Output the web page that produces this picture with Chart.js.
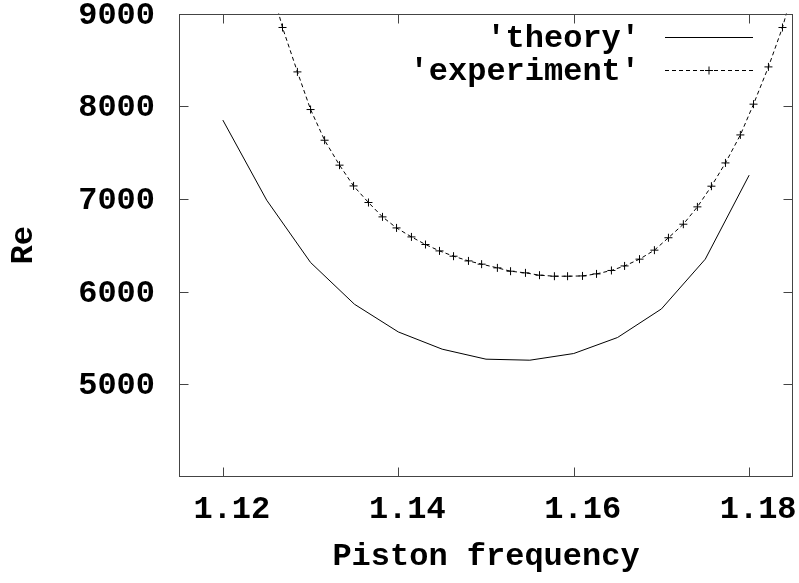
<!DOCTYPE html>
<html>
<head>
<meta charset="utf-8">
<script src="https://cdn.jsdelivr.net/npm/chart.js@4.4.0/dist/chart.umd.min.js"></script>
<style>
  html, body { margin: 0; padding: 0; background: #fff; }
</style>
</head>
<body>
<canvas id="myChart" width="799" height="583"></canvas>
<script>
// theory curve (solid line)
const theoryFreq = [1.12, 1.125, 1.13, 1.135, 1.14, 1.145, 1.15, 1.155, 1.16, 1.165, 1.17, 1.175, 1.18];
const theoryRe = [7850, 6986, 6314, 5864, 5565, 5379, 5271, 5260, 5332, 5505, 5813, 6350, 7256];

// experiment points (dashed line with crosses), first and last run off the top
const experimentFreq = [1.1252, 1.1268, 1.1285, 1.1300, 1.1316, 1.1333, 1.1349, 1.1366, 1.1382, 1.1398,
  1.1415, 1.1431, 1.1447, 1.1463, 1.1480, 1.1495, 1.1513, 1.1528, 1.1545, 1.1561,
  1.1578, 1.1593, 1.1610, 1.1626, 1.1643, 1.1658, 1.1675, 1.1692, 1.1708, 1.1725,
  1.1741, 1.1757, 1.1773, 1.1790, 1.1805, 1.1822, 1.1838, 1.1854];
const experimentRe = [9400, 8849, 8370, 7964, 7633, 7364, 7140, 6961, 6806, 6687,
  6590, 6508, 6439, 6382, 6331, 6296, 6256, 6220, 6202, 6177,
  6166, 6166, 6169, 6191, 6228, 6277, 6350, 6447, 6581, 6727,
  6914, 7137, 7388, 7690, 8022, 8424, 8849, 9390];

const xTicks = [1.12, 1.14, 1.16, 1.18];
const yTicks = [5000, 6000, 7000, 8000, 9000];
const seriesNames = ["'theory'", "'experiment'"];

const FONT = "'Liberation Mono', 'DejaVu Sans Mono', monospace";
const FRAME = "#444";

function pairs(xs, ys) {
  return xs.map((x, i) => ({ x: x, y: ys[i] }));
}

// border box, inward ticks on all four sides, and the key
const framePlugin = {
  id: "frame",
  afterDraw(chart) {
    const { ctx, chartArea: a, scales } = chart;
    const L = Math.round(a.left) + 0.5, R = Math.round(a.right) - 0.5;
    const T = Math.round(a.top) + 0.5, B = Math.round(a.bottom) - 0.5;
    ctx.save();
    ctx.strokeStyle = FRAME;
    ctx.lineWidth = 1;
    ctx.strokeRect(L, T, R - L, B - T);
    ctx.beginPath();
    xTicks.forEach(v => {
      const px = Math.round(scales.x.getPixelForValue(v)) + 0.5;
      ctx.moveTo(px, B); ctx.lineTo(px, B - 9);
      ctx.moveTo(px, T); ctx.lineTo(px, T + 9);
    });
    yTicks.forEach(v => {
      const py = Math.round(scales.y.getPixelForValue(v)) + 0.5;
      ctx.moveTo(L, py); ctx.lineTo(L + 9, py);
      ctx.moveTo(R, py); ctx.lineTo(R - 9, py);
    });
    ctx.stroke();

    // key
    ctx.font = "bold 32px " + FONT;
    ctx.fillStyle = "#000";
    ctx.textAlign = "right";
    ctx.textBaseline = "middle";
    const rows = [39, 72];
    ctx.fillText(seriesNames[0], 640, rows[0]);
    ctx.fillText(seriesNames[1], 640, rows[1]);

    ctx.strokeStyle = "#000";
    ctx.beginPath();
    ctx.moveTo(665, 37.5); ctx.lineTo(753, 37.5);
    ctx.stroke();
    ctx.setLineDash([4, 3]);
    ctx.beginPath();
    ctx.moveTo(665, 70.5); ctx.lineTo(753, 70.5);
    ctx.stroke();
    ctx.setLineDash([]);
    ctx.beginPath();
    ctx.moveTo(705, 70.5); ctx.lineTo(713, 70.5);
    ctx.moveTo(709, 66.5); ctx.lineTo(709, 74.5);
    ctx.stroke();
    ctx.restore();
  },
};

const ctx = document.getElementById("myChart").getContext("2d");
const chart = new Chart(ctx, {
  type: "line",
  data: {
    datasets: [
      {
        label: seriesNames[0],
        data: pairs(theoryFreq, theoryRe),
        borderColor: "#000",
        borderWidth: 1,
        pointRadius: 0,
        tension: 0,
        fill: false,
      },
      {
        label: seriesNames[1],
        data: pairs(experimentFreq, experimentRe),
        borderColor: "#000",
        borderWidth: 1,
        borderDash: [4, 3],
        pointStyle: "cross",
        pointRadius: 4,
        pointBorderColor: "#000",
        pointBorderWidth: 1,
        tension: 0,
        fill: false,
      },
    ],
  },
  options: {
    responsive: false,
    animation: false,
    devicePixelRatio: 1,
    events: [],
    layout: { padding: { top: 13.5, right: 6, left: 0, bottom: 0 } },
    plugins: {
      legend: { display: false },
      tooltip: { enabled: false },
    },
    scales: {
      x: {
        type: "linear",
        min: 1.115,
        max: 1.185,
        afterBuildTicks: s => { s.ticks = xTicks.map(v => ({ value: v })); },
        afterFit: s => { s.height = 106; },
        ticks: {
          color: "#000",
          font: { family: FONT, size: 32, weight: "bold" },
          padding: 0,
          labelOffset: 9,
          maxRotation: 0,
          autoSkip: false,
          callback: v => v.toFixed(2),
        },
        grid: { display: true, drawOnChartArea: false, drawTicks: true, tickLength: 14, color: "rgba(0,0,0,0)" },
        border: { display: false },
        title: {
          display: true,
          text: "Piston frequency",
          color: "#000",
          font: { family: FONT, size: 32, weight: "bold" },
          padding: { top: 0, bottom: 7 },
        },
      },
      y: {
        type: "linear",
        min: 4000,
        max: 9000,
        afterBuildTicks: s => { s.ticks = yTicks.map(v => ({ value: v })); },
        afterFit: s => { s.width = 179; },
        ticks: {
          color: "#000",
          font: { family: FONT, size: 32, weight: "bold", lineHeight: 0.8 },
          padding: 0,
          labelOffset: 2,
          autoSkip: false,
          callback: v => String(v),
        },
        grid: { display: true, drawOnChartArea: false, drawTicks: true, tickLength: 24, color: "rgba(0,0,0,0)" },
        border: { display: false },
        title: {
          display: true,
          text: "Re",
          color: "#000",
          font: { family: FONT, size: 32, weight: "bold" },
          padding: { top: 5, bottom: 0 },
        },
      },
    },
  },
  plugins: [framePlugin],
});
</script>
</body>
</html>
